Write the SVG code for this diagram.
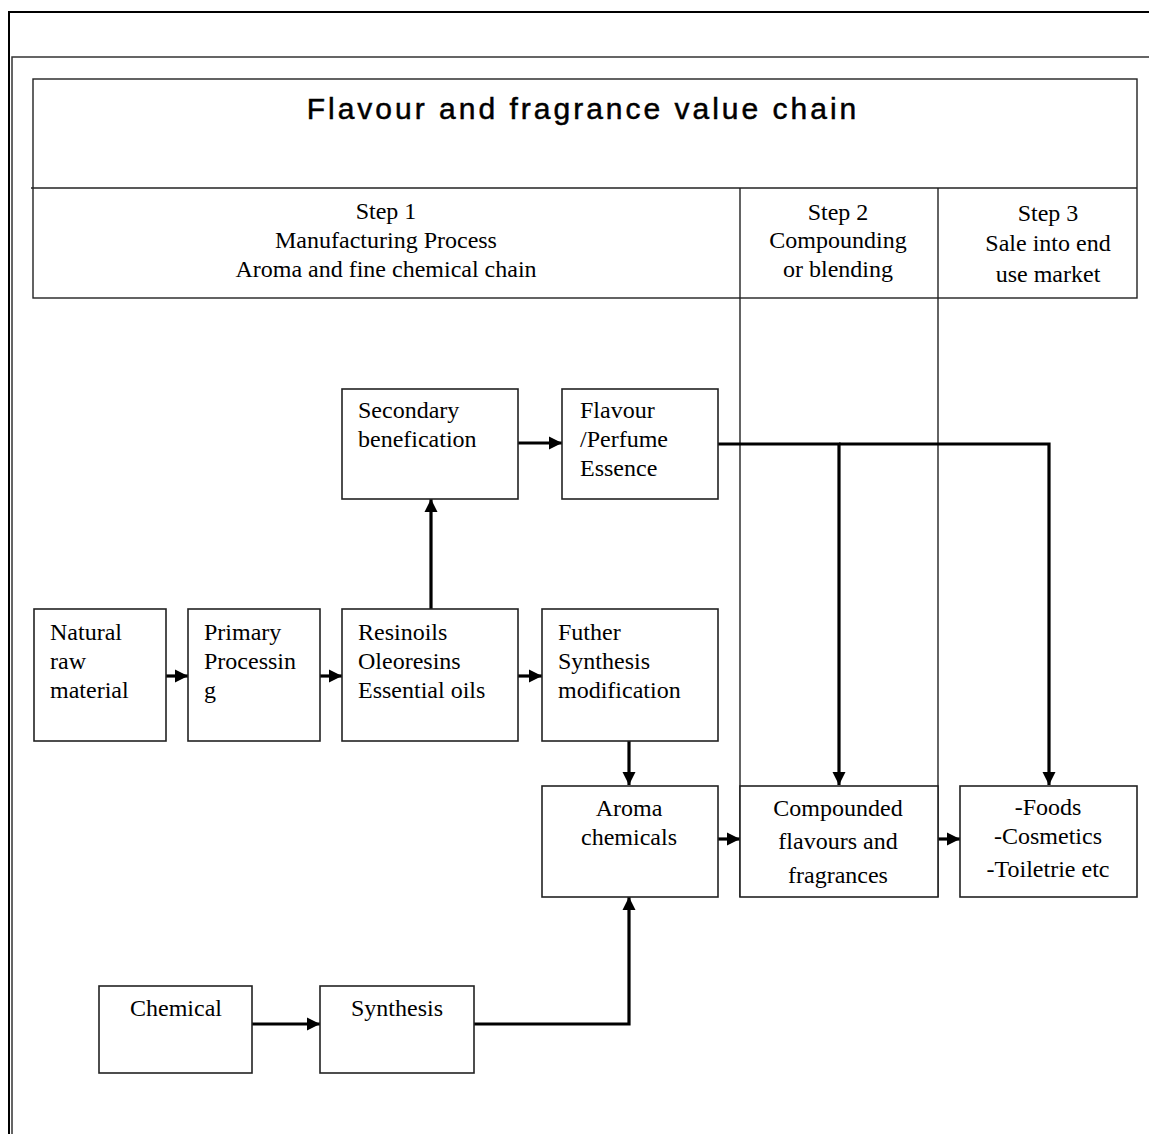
<svg xmlns="http://www.w3.org/2000/svg" width="1149" height="1134" viewBox="0 0 1149 1134">
<style>
.frame{fill:none;stroke:#000;stroke-width:2}
.frame2{fill:none;stroke:#333;stroke-width:1.5}
.box{fill:#fff;stroke:#222;stroke-width:1.6}
.grid{fill:none;stroke:#222;stroke-width:1.4}
.t{font-family:"Liberation Serif","Times New Roman",serif;font-size:24px;fill:#000}
.c{text-anchor:middle}
.title{font-family:"Liberation Sans",Arial,sans-serif;font-size:30px;letter-spacing:3px;fill:#000;stroke:#000;stroke-width:0.5;text-anchor:middle}
.conn{fill:none;stroke:#000;stroke-width:3.2}
</style>
<defs>
<marker id="ah" markerUnits="userSpaceOnUse" markerWidth="16" markerHeight="16" refX="13" refY="8" orient="auto">
<path d="M0,1.5 L13,8 L0,14.5 Z" fill="#000"/>
</marker>
</defs>
<rect width="1149" height="1134" fill="#fff"/>
<g id="frame">
<path class="frame" d="M9,1134 V12 H1149"/>
<path class="frame2" d="M12,1134 V57 H1149"/>
</g>
<g id="header">
<rect class="grid" x="33" y="79" width="1104" height="219"/>
<line class="grid" x1="31" y1="188" x2="1137" y2="188"/>
<line class="grid" x1="740" y1="188" x2="740" y2="897"/>
<line class="grid" x1="938" y1="188" x2="938" y2="897"/>
<text class="title" x="583" y="119">Flavour and fragrance value chain</text>
<text class="t c" x="386" y="219">Step 1</text>
<text class="t c" x="386" y="248">Manufacturing Process</text>
<text class="t c" x="386" y="277">Aroma and fine chemical chain</text>
<text class="t c" x="838" y="220">Step 2</text>
<text class="t c" x="838" y="248">Compounding</text>
<text class="t c" x="838" y="277">or blending</text>
<text class="t c" x="1048" y="221">Step 3</text>
<text class="t c" x="1048" y="251">Sale into end</text>
<text class="t c" x="1048" y="282">use market</text>
</g>
<g id="connectors">
<line class="conn" x1="166" y1="676" x2="188" y2="676" marker-end="url(#ah)"/>
<line class="conn" x1="320" y1="676" x2="342" y2="676" marker-end="url(#ah)"/>
<line class="conn" x1="518" y1="676" x2="542" y2="676" marker-end="url(#ah)"/>
<line class="conn" x1="431" y1="609" x2="431" y2="499" marker-end="url(#ah)"/>
<line class="conn" x1="518" y1="443" x2="562" y2="443" marker-end="url(#ah)"/>
<path class="conn" d="M718,444 H839 V785" marker-end="url(#ah)"/>
<path class="conn" d="M839,444 H1049 V785" marker-end="url(#ah)"/>
<line class="conn" x1="629" y1="741" x2="629" y2="785" marker-end="url(#ah)"/>
<line class="conn" x1="718" y1="839" x2="740" y2="839" marker-end="url(#ah)"/>
<line class="conn" x1="938" y1="839" x2="960" y2="839" marker-end="url(#ah)"/>
<line class="conn" x1="252" y1="1024" x2="320" y2="1024" marker-end="url(#ah)"/>
<path class="conn" d="M474,1024 H629 V897" marker-end="url(#ah)"/>
</g>
<g id="secondary">
<rect class="box" x="342" y="389" width="176" height="110"/>
<text class="t" x="358" y="418">Secondary</text>
<text class="t" x="358" y="447">benefication</text>
</g>
<g id="essence">
<rect class="box" x="562" y="389" width="156" height="110"/>
<text class="t" x="580" y="418">Flavour</text>
<text class="t" x="580" y="447">/Perfume</text>
<text class="t" x="580" y="476">Essence</text>
</g>
<g id="natural">
<rect class="box" x="34" y="609" width="132" height="132"/>
<text class="t" x="50" y="640">Natural</text>
<text class="t" x="50" y="669">raw</text>
<text class="t" x="50" y="698">material</text>
</g>
<g id="primary">
<rect class="box" x="188" y="609" width="132" height="132"/>
<text class="t" x="204" y="640">Primary</text>
<text class="t" x="204" y="669">Processin</text>
<text class="t" x="204" y="698">g</text>
</g>
<g id="resinoils">
<rect class="box" x="342" y="609" width="176" height="132"/>
<text class="t" x="358" y="640">Resinoils</text>
<text class="t" x="358" y="669">Oleoresins</text>
<text class="t" x="358" y="698">Essential oils</text>
</g>
<g id="further">
<rect class="box" x="542" y="609" width="176" height="132"/>
<text class="t" x="558" y="640">Futher</text>
<text class="t" x="558" y="669">Synthesis</text>
<text class="t" x="558" y="698">modification</text>
</g>
<g id="aroma">
<rect class="box" x="542" y="786" width="176" height="111"/>
<text class="t c" x="629" y="816">Aroma</text>
<text class="t c" x="629" y="845">chemicals</text>
</g>
<g id="compounded">
<rect class="box" x="740" y="786" width="198" height="111"/>
<text class="t c" x="838" y="816">Compounded</text>
<text class="t c" x="838" y="849">flavours and</text>
<text class="t c" x="838" y="883">fragrances</text>
</g>
<g id="market">
<rect class="box" x="960" y="786" width="177" height="111"/>
<text class="t c" x="1048" y="815">-Foods</text>
<text class="t c" x="1048" y="844">-Cosmetics</text>
<text class="t c" x="1048" y="877">-Toiletrie etc</text>
</g>
<g id="chemical">
<rect class="box" x="99" y="986" width="153" height="87"/>
<text class="t c" x="176" y="1016">Chemical</text>
</g>
<g id="synthesis">
<rect class="box" x="320" y="986" width="154" height="87"/>
<text class="t c" x="397" y="1016">Synthesis</text>
</g>
</svg>
